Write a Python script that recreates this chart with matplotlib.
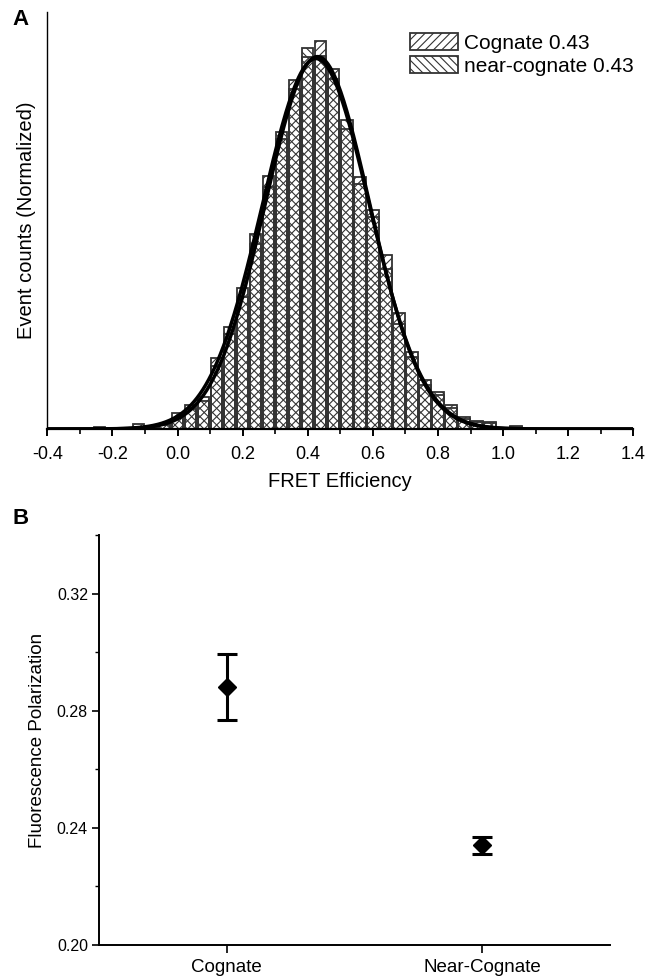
import numpy as np
import matplotlib
matplotlib.use('Agg')
import matplotlib.pyplot as plt

plt.rcParams['font.family'] = ['Liberation Sans', 'DejaVu Sans']
plt.rcParams['hatch.linewidth'] = 0.8

# panel A: FRET histogram (normalized counts), bin width 0.04
bin_centers = [-0.24, -0.20, -0.16, -0.12, -0.08, -0.04, 0.00, 0.04, 0.08, 0.12,
               0.16, 0.20, 0.24, 0.28, 0.32, 0.36, 0.40, 0.44, 0.48, 0.52,
               0.56, 0.60, 0.64, 0.68, 0.72, 0.76, 0.80, 0.84, 0.88, 0.92,
               0.96, 1.00, 1.04]
cognate = [0.005, 0, 0, 0.013, 0.005, 0.010, 0.041, 0.052, 0.082, 0.183,
           0.245, 0.363, 0.477, 0.652, 0.747, 0.899, 0.959, 1.000, 0.928, 0.773,
           0.649, 0.564, 0.448, 0.299, 0.198, 0.126, 0.088, 0.062, 0.031, 0.018,
           0.015, 0, 0.008]
near_cognate = [0, 0, 0.003, 0.005, 0.008, 0.013, 0.028, 0.062, 0.072, 0.162,
                0.263, 0.340, 0.503, 0.624, 0.765, 0.876, 0.982, 0.961, 0.902, 0.796,
                0.631, 0.546, 0.412, 0.271, 0.186, 0.113, 0.095, 0.054, 0.026, 0.021,
                0.018, 0.003, 0.005]
# gaussian fit parameters (center, sigma, amplitude)
fit_cognate = (0.43, 0.160, 0.960)
fit_near = (0.425, 0.164, 0.955)
labels_A = ['Cognate 0.43', 'near-cognate 0.43']

# panel B: fluorescence polarization
groups = ['Cognate', 'Near-Cognate']
fp_mean = [0.288, 0.234]
fp_err = [0.0112, 0.003]

W, H = 645, 977
fig = plt.figure(figsize=(W / 100, H / 100), dpi=100)

def box(l, t, r, b):
    return [l / W, 1 - b / H, (r - l) / W, (b - t) / H]

# ---------------- A ----------------
ax1 = fig.add_axes(box(47.3, 12, 633.3, 429))
ec = '#333333'
b1 = ax1.bar(bin_centers, cognate, width=0.035, facecolor='white', edgecolor=ec,
             linewidth=1.3, hatch='////', label=labels_A[0])
b2 = ax1.bar(bin_centers, near_cognate, width=0.035, facecolor='none', edgecolor=ec,
             linewidth=1.3, hatch='\\\\\\\\', label=labels_A[1])

xx = np.linspace(-0.4, 1.4, 600)
for mu, sd, amp in (fit_cognate, fit_near):
    ax1.plot(xx, amp * np.exp(-0.5 * ((xx - mu) / sd) ** 2), color='black', lw=2.5)

ax1.set_xlim(-0.4, 1.4)
ax1.set_ylim(0, 1.075)
ax1.set_xticks(np.round(np.arange(-0.4, 1.41, 0.2), 1))
ax1.set_xticklabels(['%.1f' % v for v in np.arange(-0.4, 1.41, 0.2)])
ax1.set_xticks(np.arange(-0.3, 1.4, 0.2), minor=True)
ax1.set_yticks([])
for s in ['top', 'right']:
    ax1.spines[s].set_visible(False)
ax1.spines['bottom'].set_linewidth(1.6)
ax1.spines['left'].set_linewidth(1.0)
ax1.tick_params(axis='x', which='major', direction='out', length=5, width=1.4,
                labelsize=13, pad=7)
ax1.tick_params(axis='x', which='minor', direction='out', length=3.5, width=1.2)
ax1.set_xlabel('FRET Efficiency', fontsize=14.5, labelpad=7)
ax1.set_ylabel('Event counts (Normalized)', fontsize=14.5, labelpad=8)
leg = ax1.legend(handles=[b1, b2], loc='upper left', bbox_to_anchor=(410 / W, 1 - 33 / H),
                 bbox_transform=fig.transFigure, frameon=False, fontsize=15,
                 handlelength=2.3, handleheight=0.9, handletextpad=0.3, labelspacing=0.15,
                 borderaxespad=0, borderpad=0)
fig.text(12 / W, 1 - 9 / H, 'A', fontsize=16, fontweight='bold', va='top', ha='left')

# ---------------- B ----------------
ax2 = fig.add_axes(box(99, 535, 610, 945))
xpos = [1, 2]
ax2.errorbar(xpos, fp_mean, yerr=fp_err, fmt='D', color='black', markersize=9,
             elinewidth=2.2, capsize=7, capthick=2.2)
ax2.set_xlim(0.5, 2.5)
ax2.set_ylim(0.20, 0.34)
ax2.set_xticks(xpos)
ax2.set_xticklabels(groups)
ax2.set_yticks([0.20, 0.24, 0.28, 0.32])
ax2.set_yticklabels(['0.20', '0.24', '0.28', '0.32'])
ax2.set_yticks([0.22, 0.26, 0.30, 0.34], minor=True)
for s in ['top', 'right']:
    ax2.spines[s].set_visible(False)
ax2.spines['bottom'].set_linewidth(1.4)
ax2.spines['left'].set_linewidth(1.4)
ax2.tick_params(axis='y', which='major', direction='out', length=5, width=1.2,
                labelsize=11.5, pad=3)
ax2.tick_params(axis='y', which='minor', direction='out', length=3, width=1.0)
ax2.tick_params(axis='x', direction='out', length=6, width=1.2, labelsize=13.5, pad=4)
ax2.set_ylabel('Fluorescence Polarization', fontsize=13.5, labelpad=8)
fig.text(12 / W, 1 - 508 / H, 'B', fontsize=16, fontweight='bold', va='top', ha='left')

fig.savefig('out.png', dpi=100)
